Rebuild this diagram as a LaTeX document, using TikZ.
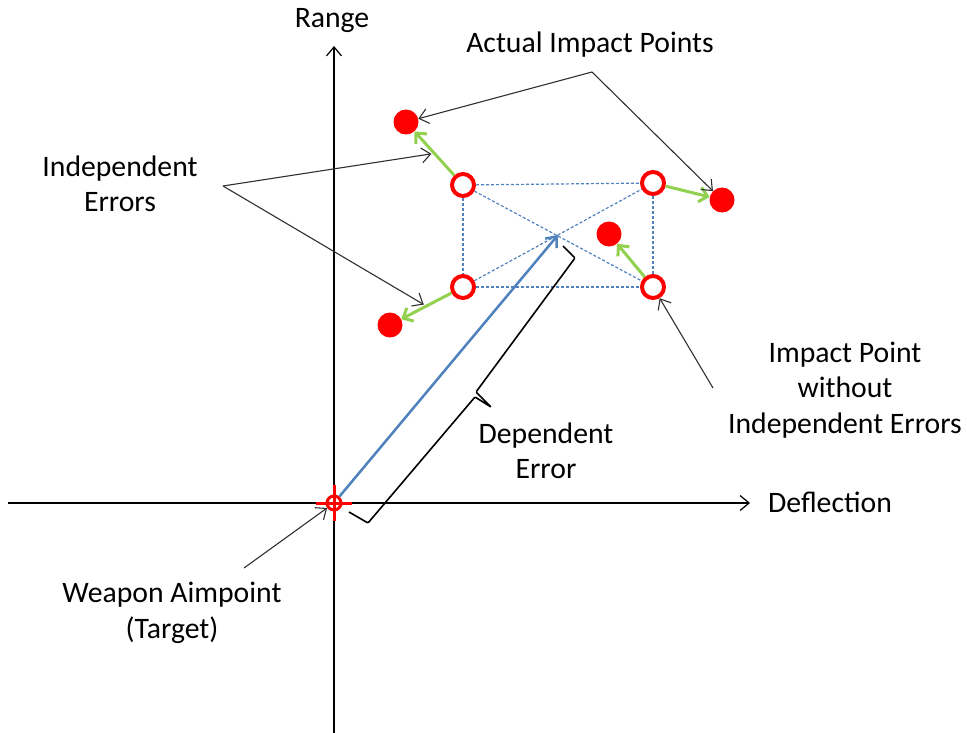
\documentclass[tikz,border=0pt]{standalone}
\usepackage{fontspec}
\setmainfont{Carlito}
\usetikzlibrary{arrows.meta}
\definecolor{myred}{HTML}{FF0000}
\definecolor{mygreen}{HTML}{92D050}
\definecolor{myblue}{HTML}{4F81BD}
\definecolor{mygray}{HTML}{303030}
\begin{document}
\begin{tikzpicture}[x=1pt,y=-1pt,
 lbl/.style={font=\fontsize{29.7}{35.5}\selectfont, align=center, text=black, inner sep=0pt},
 openpt/.style={circle, draw=myred, line width=4pt, fill=white, minimum size=22pt, inner sep=0pt},
 hitpt/.style={circle, fill=myred, minimum size=25pt, inner sep=0pt},
 axisline/.style={draw=black, line width=1.2pt, -{Straight Barb[length=9pt,width=15pt]}},
 callout/.style={draw=mygray, line width=1.1pt, -{Straight Barb[length=9pt,width=15pt]}},
 indep/.style={draw=mygreen, line width=3pt, -{Straight Barb[length=8pt,width=15pt]}},
 dep/.style={draw=myblue, line width=2.5pt, -{Straight Barb[length=9pt,width=15pt]}},
 gridline/.style={draw=myblue, line width=1.2pt, dash pattern=on 3pt off 2pt},
 targetmark/.style={circle, draw=myred, line width=3pt, minimum size=14pt, inner sep=0pt},
 bracket/.style={draw=black, line width=1.6pt, rounded corners=1pt},
 ]
\useasboundingbox (0,0) rectangle (967,733);

% axes
\coordinate (yb) at (334,733);
\coordinate (yt) at (334,46);
\coordinate (xl) at (8,503);
\coordinate (xr) at (750,503);
\draw[axisline] (yb) -- (yt);
\draw[axisline] (xl) -- (xr);

% target
\node[targetmark] (tgt) at (334,503) {};
\draw[myred, line width=3pt] ([xshift=-18pt]tgt.center) -- ([xshift=18pt]tgt.center);
\draw[myred, line width=3pt] ([yshift=-18pt]tgt.center) -- ([yshift=18pt]tgt.center);

% impact points without independent errors
\node[openpt] (tl) at (463,185) {};
\node[openpt] (tr) at (653,183) {};
\node[openpt] (bl) at (463,287) {};
\node[openpt] (br) at (653,287) {};
\coordinate (ctr) at (558,235);

\draw[gridline] (tl) -- (tr);
\draw[gridline] (bl) -- (br);
\draw[gridline] (tl) -- (bl);
\draw[gridline] (tr) -- (br);
\draw[gridline] (tl) -- (br);
\draw[gridline] (bl) -- (tr);

% actual impact points
\node[hitpt] (d1) at (406,122) {};
\node[hitpt] (d2) at (722,200) {};
\node[hitpt] (d3) at (609,234) {};
\node[hitpt] (d4) at (390,325) {};

% independent errors
\draw[indep] (tl) -- coordinate[pos=0.5] (m1) (d1);
\draw[indep] (tr) -- (d2);
\draw[indep] (br) -- (d3);
\draw[indep] (bl) -- coordinate[pos=0.5] (m4) (d4);

% dependent error
\draw[dep] (tgt) -- (ctr);

% bracket
\draw[bracket] (563,246) -- (575,258) -- (476,392) -- (491,407) -- (475,397) -- (368,523) -- (349,512);

% labels
\node[lbl, anchor=base] (range) at (332,28) {Range};
\node[lbl, anchor=base west] (defl) at (768,512) {Deflection};
\node[lbl, anchor=base] (aiplbl) at (590,53) {Actual Impact Points};
\node[lbl] (ielbl) at (120,184) {Independent\\Errors};
\node[lbl] (iplbl) at (845,390) {Impact Point\\without\\Independent Errors};
\node[lbl] (delbl) at (546,451) {Dependent\\Error};
\node[lbl] (walbl) at (172,613) {Weapon Aimpoint\\(Target)};

% callouts
\coordinate (aip) at (592,72);
\draw[callout] (aip) -- (d1);
\draw[callout] (aip) -- (d2);
\coordinate (iep) at (223,186);
\draw[callout, shorten >=3pt] (iep) -- (m1);
\draw[callout, shorten >=3pt] (iep) -- (m4);
\coordinate (ipp) at (713,388);
\draw[callout] (ipp) -- (br);
\coordinate (wap) at (244,568);
\draw[callout] (wap) -- (tgt);
\end{tikzpicture}
\end{document}
